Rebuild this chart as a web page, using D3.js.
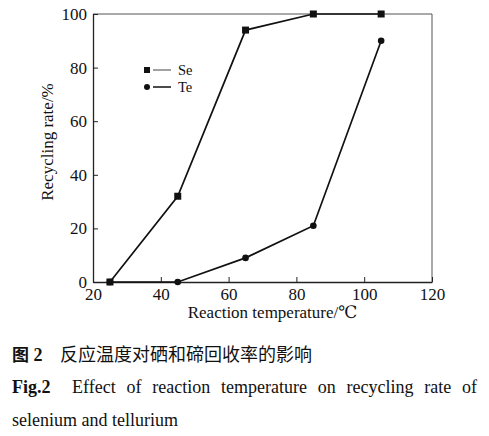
<!DOCTYPE html>
<html>
<head>
<meta charset="utf-8">
<script src="https://cdn.jsdelivr.net/npm/d3@7"></script>
<style>
  body { margin: 0; background: #fff; }
  svg text { font-family: "Liberation Serif", "DejaVu Serif", serif; fill: #111; }
</style>
</head>
<body>
<svg width="489" height="436"></svg>
<script>
const temps = [25, 45, 65, 85, 105];
const seValues = [0, 32, 94, 100, 100];
const teValues = [0, 0, 9, 21, 90];
const xTicks = [20, 40, 60, 80, 100, 120];
const yTicks = [0, 20, 40, 60, 80, 100];
const seriesNames = ["Se", "Te"];

const margin = {top: 14, right: 57, bottom: 154, left: 93},
    width = 489 - margin.left - margin.right,
    height = 436 - margin.top - margin.bottom;

const svg = d3.select("svg");
const g = svg.append("g")
    .attr("transform", "translate(" + margin.left + "," + margin.top + ")");

const x = d3.scaleLinear().domain([20, 120]).range([0, width]);
const y = d3.scaleLinear().domain([0, 100]).range([height, 0]);

// frame: top and right lighter
g.append("line").attr("x1", 0).attr("x2", width).attr("y1", 0).attr("y2", 0)
    .attr("stroke", "#555").attr("stroke-width", 1);
g.append("line").attr("x1", width).attr("x2", width).attr("y1", 0).attr("y2", height)
    .attr("stroke", "#555").attr("stroke-width", 1);

const xAxis = g.append("g")
    .attr("transform", `translate(0,${height})`)
    .call(d3.axisBottom(x).tickValues(xTicks).tickSizeInner(-5).tickSizeOuter(0).tickPadding(6));
const yAxis = g.append("g")
    .call(d3.axisLeft(y).tickValues(yTicks).tickSizeInner(-5).tickSizeOuter(0).tickPadding(6));

[xAxis, yAxis].forEach(a => {
    a.select(".domain").attr("stroke", "#222").attr("stroke-width", 1.3);
    a.selectAll(".tick line").attr("stroke", "#222");
    a.selectAll(".tick text")
        .style("font-family", "'Liberation Serif', serif")
        .style("font-size", "17px")
        .attr("fill", "#111");
});

g.append("text")
    .attr("x", width / 2 + 10)
    .attr("y", height + 36)
    .style("text-anchor", "middle")
    .style("font-size", "17px")
    .text("Reaction temperature/\u2103");

g.append("text")
    .attr("transform", "rotate(-90)")
    .attr("x", -height / 2 + 6)
    .attr("y", -40)
    .style("text-anchor", "middle")
    .style("font-size", "17px")
    .text("Recycling rate/%");

const line = d3.line()
    .x(d => x(d[0]))
    .y(d => y(d[1]));

const seData = temps.map((t, i) => [t, seValues[i]]);
const teData = temps.map((t, i) => [t, teValues[i]]);

g.append("path").datum(teData).attr("d", line)
    .attr("fill", "none").attr("stroke", "#111").attr("stroke-width", 1.7);
g.append("path").datum(seData).attr("d", line)
    .attr("fill", "none").attr("stroke", "#111").attr("stroke-width", 1.7);

g.selectAll(".se").data(seData).join("rect")
    .attr("class", "se")
    .attr("x", d => x(d[0]) - 3.5)
    .attr("y", d => y(d[1]) - 3.5)
    .attr("width", 7).attr("height", 7)
    .attr("fill", "#111");

g.selectAll(".te").data(teData).join("circle")
    .attr("class", "te")
    .attr("cx", d => x(d[0]))
    .attr("cy", d => y(d[1]))
    .attr("r", 3.3)
    .attr("fill", "#111");

// legend
const rowGap = 17;
const legend = g.append("g").attr("transform", "translate(54,56)");
legend.append("rect").attr("x", -3).attr("y", -3).attr("width", 6).attr("height", 6).attr("fill", "#111");
legend.append("line").attr("x1", 6).attr("x2", 24).attr("y1", 0).attr("y2", 0)
    .attr("stroke", "#444").attr("stroke-width", 1);
legend.append("circle").attr("cx", 0).attr("cy", rowGap).attr("r", 3).attr("fill", "#111");
legend.append("line").attr("x1", 6).attr("x2", 24).attr("y1", rowGap).attr("y2", rowGap)
    .attr("stroke", "#111").attr("stroke-width", 1.5);
legend.selectAll(".lab").data(seriesNames).join("text")
    .attr("class", "lab")
    .attr("x", 31)
    .attr("y", (d, i) => i * rowGap + 5)
    .style("font-size", "14.5px")
    .text(d => d);

// caption
const cn = svg.append("text").attr("x", 12).attr("y", 361).style("font-size", "17px");
cn.append("tspan").style("font-family", "'Noto Sans CJK SC', sans-serif").style("font-weight", "bold").text("图");
cn.append("tspan").style("font-weight", "bold").style("font-size", "18px").text(" 2");
cn.append("tspan").attr("x", 60).style("font-family", "'Noto Sans CJK SC', sans-serif")
    .style("font-size", "18px")
    .text("反应温度对硒和碲回收率的影响");

svg.append("text").attr("x", 12).attr("y", 393).style("font-size", "18px")
    .style("font-weight", "bold").text("Fig.2");

const en = svg.append("text").attr("x", 72).attr("y", 393).style("font-size", "18px")
    .text("Effect of reaction temperature on recycling rate of");
// justify the line to the right margin by widening the word gaps
const natural = en.node().getComputedTextLength();
const gaps = en.text().split(" ").length - 1;
en.style("word-spacing", ((477 - 72 - natural) / gaps) + "px");

svg.append("text").attr("x", 12).attr("y", 426).style("font-size", "18px")
    .text("selenium and tellurium");
</script>
</body>
</html>
